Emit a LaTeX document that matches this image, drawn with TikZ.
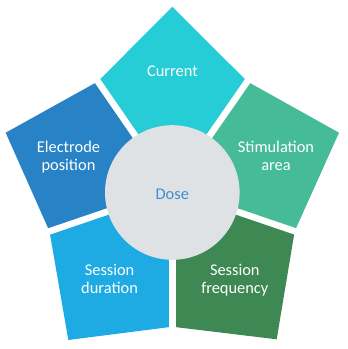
\documentclass[tikz,border=0pt]{standalone}
\usepackage{fontspec}
\setmainfont{Carlito}
\usetikzlibrary{calc}
\definecolor{cCur}{HTML}{27CDD6}
\definecolor{cElec}{HTML}{2882C6}
\definecolor{cStim}{HTML}{45BB97}
\definecolor{cDur}{HTML}{1EABE3}
\definecolor{cFreq}{HTML}{3D8853}
\definecolor{cCircle}{HTML}{DEE2E5}
\definecolor{cDose}{HTML}{3F8FD2}
\newcommand{\twoline}[2]{\begin{tabular}[t]{@{}c@{}}#1\\#2\end{tabular}}
\begin{document}
\begin{tikzpicture}[x=1pt,y=-1pt,
  gap/.style={white,line width=6.5pt},
  lbl/.style={text=white,font=\fontsize{16.4}{17.5}\selectfont,inner sep=0pt,anchor=base}]
\useasboundingbox (0,0) rectangle (348,349);
\fill[white] (0,0) rectangle (348,349);
% geometry
\coordinate (C) at (172.3,189.5);
\coordinate (vT) at (172.3,6.7);
\coordinate (vL) at (5.7,132.7);
\coordinate (vR) at (339,132.7);
\coordinate (vBL) at (68.3,340);
\coordinate (vBR) at (276.7,339.3);
\coordinate (gCE) at (97.9,81.5);
\coordinate (gCS) at (247.3,81.5);
\coordinate (gES) at (49.5,231.3);
\coordinate (gSF) at (294.7,231.2);
\coordinate (gB) at (172.3,326.7);
% pieces
\fill[cCur] (C) -- (gCE) -- (vT) -- (gCS) -- cycle;
\fill[cElec] (C) -- (gES) -- (vL) -- (gCE) -- cycle;
\fill[cStim] (C) -- (gCS) -- (vR) -- (gSF) -- cycle;
\fill[cDur] (C) -- (gB) -- (vBL) -- (gES) -- cycle;
\fill[cFreq] (C) -- (gSF) -- (vBR) -- (gB) -- cycle;
% gaps
\foreach \g in {gCE,gCS,gES,gSF,gB}
  \draw[gap] (C) -- ($(C)!1.15!(\g)$);
% centre
\node[circle,fill=cCircle,minimum size=134.6pt,inner sep=0pt,
  text=cDose,text height=13pt,text depth=0pt,
  font=\fontsize{16.4}{17.5}\selectfont] (dose) at (172.3,192.5) {Dose};
% labels
\node[lbl] (current) at (172.4,76.5) {Current};
\node[lbl] (electrode) at (68.5,152.8) {\twoline{Electrode}{position}};
\node[lbl] (stim) at (276,152.8) {\twoline{Stimulation}{area}};
\node[lbl] (duration) at (109.6,275.5) {\twoline{Session}{duration}};
\node[lbl] (frequency) at (234.8,275.5) {\twoline{Session}{frequency}};
\end{tikzpicture}
\end{document}
